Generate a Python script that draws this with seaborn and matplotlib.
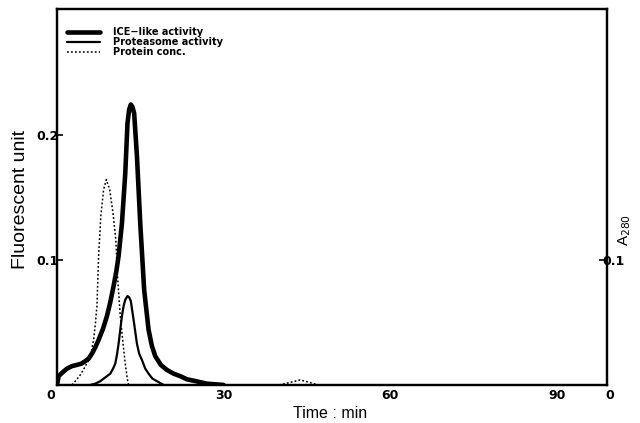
import matplotlib
matplotlib.use("Agg")
import matplotlib.pyplot as plt
import seaborn as sns
import pandas as pd

# Data (time in min, fluorescent units / A280)
ice_time = [0, 0.3, 1.0, 1.8, 2.7, 3.6, 4.4, 5.1, 5.7, 6.3, 6.9, 7.5, 8.3, 9.0, 9.6, 10.2, 10.7, 11.1,
            11.7, 12.3, 12.7, 13.0, 13.3, 13.6, 13.9, 14.4, 15.0, 15.7, 16.5, 17.1, 17.7, 18.7, 19.8,
            21.0, 22.2, 23.4, 25.0, 27.0, 30.0]
ice_val = [0.0, 0.007, 0.010, 0.013, 0.015, 0.016, 0.017, 0.019, 0.021, 0.025, 0.030, 0.036, 0.045,
           0.055, 0.066, 0.079, 0.091, 0.103, 0.129, 0.169, 0.209, 0.220, 0.224, 0.222, 0.217, 0.183,
           0.129, 0.076, 0.044, 0.031, 0.023, 0.016, 0.012, 0.009, 0.007, 0.0045, 0.003, 0.001, 0.0]

prot_time = [6.0, 6.9, 7.8, 8.7, 9.6, 10.1, 10.5, 10.8, 11.1, 11.4, 11.7, 12.0, 12.3, 12.7, 13.0, 13.3,
             13.8, 14.4, 14.8, 15.3, 15.9, 16.5, 17.2, 18.0, 19.2]
prot_val = [0.0, 0.001, 0.003, 0.006, 0.009, 0.013, 0.017, 0.024, 0.033, 0.044, 0.055, 0.063, 0.068,
            0.071, 0.070, 0.067, 0.052, 0.033, 0.025, 0.020, 0.013, 0.009, 0.005, 0.003, 0.0]

conc_time = [2.7, 3.5, 4.2, 5.0, 5.7, 6.2, 6.6, 6.9, 7.2, 7.5, 7.9, 8.4, 8.9, 9.5, 10.1, 10.6, 10.9,
             11.4, 11.9, 12.3, 12.7, 12.9, 40.0, 42.0, 43.8, 45.5, 47.0]
conc_val = [0.0, 0.004, 0.008, 0.014, 0.020, 0.027, 0.036, 0.048, 0.063, 0.103, 0.135, 0.156, 0.164,
            0.156, 0.137, 0.116, 0.087, 0.055, 0.033, 0.017, 0.004, 0.0, 0.0, 0.002, 0.004, 0.002, 0.0]

x_ticks = [30, 60, 90]
y_ticks = [0.1, 0.2]
right_ticks = [0.1]
legend_labels = ["ICE\u2212like activity", "Proteasome activity", "Protein conc."]

sns.set_style("white")
plt.rcParams["font.family"] = ["Liberation Sans", "DejaVu Sans"]
for key in ["text.color", "axes.labelcolor", "xtick.color", "ytick.color", "axes.edgecolor"]:
    plt.rcParams[key] = "black"
BOLD = {"family": "DejaVu Sans", "weight": "bold", "size": 9}

fig = plt.figure(figsize=(6.4, 4.23), dpi=100)
ax = fig.add_axes([0.089, 0.090, 0.859, 0.888])

df_ice = pd.DataFrame({"t": ice_time, "v": ice_val})
df_prot = pd.DataFrame({"t": prot_time, "v": prot_val})
conc_a = pd.DataFrame({"t": conc_time[:22], "v": conc_val[:22]})
conc_b = pd.DataFrame({"t": conc_time[22:], "v": conc_val[22:]})

dots = (0, (1.2, 1.4))
sns.lineplot(data=df_ice, x="t", y="v", ax=ax, color="black", lw=3.3, label=legend_labels[0], sort=False)
sns.lineplot(data=df_prot, x="t", y="v", ax=ax, color="black", lw=1.6, label=legend_labels[1], sort=False)
sns.lineplot(data=conc_a, x="t", y="v", ax=ax, color="black", lw=1.1, linestyle=dots,
             label=legend_labels[2], sort=False)
sns.lineplot(data=conc_b, x="t", y="v", ax=ax, color="black", lw=1.1, linestyle=dots,
             sort=False, legend=False)

ax.set_xlim(0, 99)
ax.set_ylim(0, 0.30)
ax.set_xticks(x_ticks)
ax.set_xticklabels([str(t) for t in x_ticks], fontdict=BOLD)
ax.set_yticks(y_ticks)
ax.set_yticklabels([str(t) for t in y_ticks], fontdict=BOLD)
ax.tick_params(axis="both", direction="in", length=4, width=1.2)
ax.tick_params(axis="x", pad=3)
ax.tick_params(axis="y", pad=-1)
ax.set_xlabel("Time : min", fontsize=11.5)
ax.xaxis.set_label_coords(0.496, -0.055)
ax.set_ylabel("Fluorescent unit", fontsize=14)
ax.yaxis.set_label_coords(-0.05, 0.493)
for s in ax.spines.values():
    s.set_linewidth(1.6)
    s.set_color("black")

# corner zeros of the two y axes
ax.text(-0.012, -0.01, "0", transform=ax.transAxes, ha="center", va="top", fontdict=BOLD)
ax.text(1.006, -0.01, "0", transform=ax.transAxes, ha="center", va="top", fontdict=BOLD)

ax2 = ax.twinx()
ax2.set_ylim(0, 0.30)
ax2.set_yticks(right_ticks)
ax2.set_yticklabels([str(t) for t in right_ticks], fontdict=BOLD)
ax2.tick_params(axis="y", direction="in", length=6, width=1.2, pad=-3)
ax2.text(1.018, 0.413, "A$_{280}$", transform=ax2.transAxes, rotation=90, ha="left", va="center",
         fontsize=11)
for s in ax2.spines.values():
    s.set_linewidth(1.6)
    s.set_color("black")

leg = ax.legend(loc="upper left", bbox_to_anchor=(0.012, 0.962), frameon=False, handlelength=3.3,
                borderaxespad=0.0, labelspacing=0.0, handletextpad=1.4,
                prop={"family": "DejaVu Sans", "weight": "bold", "size": 7})

fig.savefig("out.png", dpi=100)
